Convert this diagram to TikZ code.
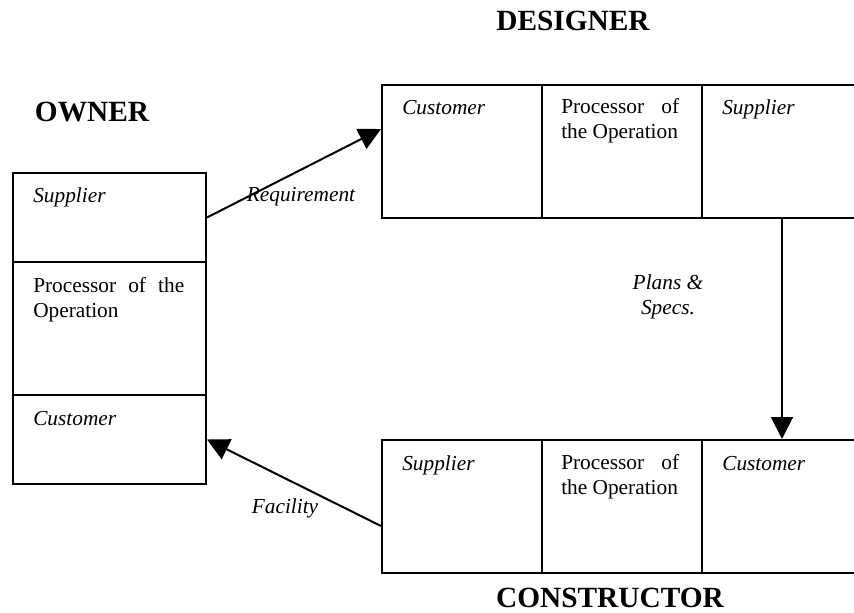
\documentclass[tikz,border=0pt]{standalone}
\usepackage{fontspec}
\setmainfont{Liberation Serif}
\usetikzlibrary{arrows.meta,calc}
\begin{document}
\begin{tikzpicture}[x=0.75pt,y=-0.75pt,
  cell/.style={draw,line width=1.5pt,inner sep=0pt,anchor=north west},
  txt/.style={anchor=base west,inner sep=0pt,align=left,font=\fontsize{16}{18.75}\selectfont},
  lbl/.style={anchor=base,inner sep=0pt,align=center,font=\fontsize{16}{18.75}\selectfont\itshape},
  ttl/.style={anchor=base,inner sep=0pt,font=\fontsize{22}{26}\selectfont\bfseries},
  conn/.style={line width=1.5pt,-{Triangle[length=16.5pt,width=16.5pt]}}]
\clip (0,0) rectangle (854,613);
% OWNER
\node[cell,minimum width=144.75pt,minimum height=66.75pt] (os) at (12,172) {};
\node[cell,minimum width=144.75pt,minimum height=99.75pt] (op) at (12,261) {};
\node[cell,minimum width=144.75pt,minimum height=66.75pt] (oc) at (12,394) {};
% DESIGNER
\node[cell,minimum width=120pt,minimum height=99.75pt] (dc) at (381,84) {};
\node[cell,minimum width=120pt,minimum height=99.75pt] (dp) at (541,84) {};
\node[cell,minimum width=120pt,minimum height=99.75pt] (ds) at (701,84) {};
% CONSTRUCTOR
\node[cell,minimum width=120pt,minimum height=99.75pt] (cs) at (381,439) {};
\node[cell,minimum width=120pt,minimum height=99.75pt] (cp) at (541,439) {};
\node[cell,minimum width=120pt,minimum height=99.75pt] (cc) at (701,439) {};
% titles
\node[ttl] (towner) at (92,122) {OWNER};
\node[ttl] (tdesigner) at (573,31) {DESIGNER};
\node[ttl] (tconstructor) at (610,607) {CONSTRUCTOR};
% cell texts (multi-line nodes: base = last line)
\node[txt] (t1) at (33,203) {\itshape Supplier};
\node[txt] (t2) at (33,317) {\makebox[113.25pt][s]{Processor of the}\\Operation};
\node[txt] (t3) at (33,425) {\itshape Customer};
\node[txt] (t4) at (402,115) {\itshape Customer};
\node[txt] (t5) at (561,139) {\makebox[88.5pt][s]{Processor of}\\the Operation};
\node[txt] (t6) at (722,115) {\itshape Supplier};
\node[txt] (t7) at (402,470) {\itshape Supplier};
\node[txt] (t8) at (561,494) {\makebox[88.5pt][s]{Processor of}\\the Operation};
\node[txt] (t9) at (722,470) {\itshape Customer};
% connectors
\draw[conn] (os.east) -- ($(dc.north west)+(0,45)$);
\draw[conn] (ds.south) -- (cc.north);
\draw[conn] ($(cs.north west)+(0,87)$) -- (oc.east);
% connector labels
\node[lbl] (lreq) at (301,202) {Requirement};
\node[lbl] (lplans) at (668,315) {Plans \&\\Specs.};
\node[lbl] (lfac) at (285,513) {Facility};
\end{tikzpicture}
\end{document}
